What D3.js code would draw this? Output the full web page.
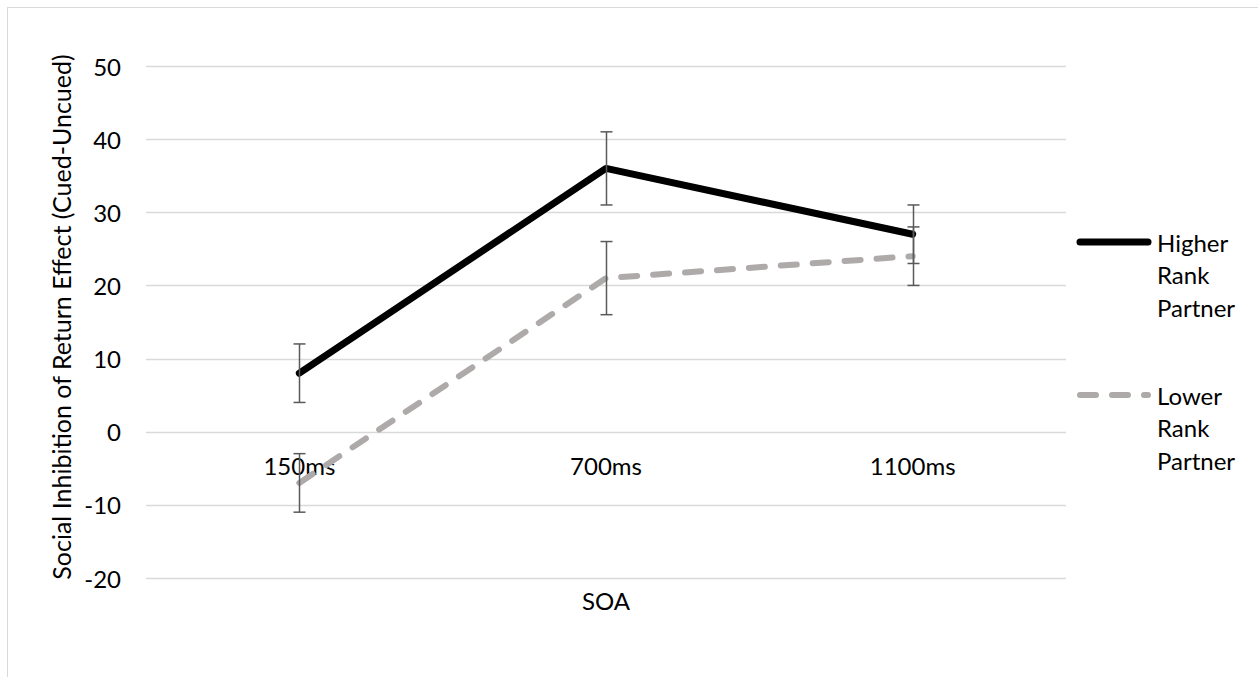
<!DOCTYPE html>
<html>
<head>
<meta charset="utf-8">
<script src="https://cdn.jsdelivr.net/npm/d3@7"></script>
<style>
  body { margin: 0; background: #fff; }
  svg text { font-family: Lato, "Open Sans", sans-serif; fill: #000; }
</style>
</head>
<body>
<div id="chart"></div>
<script>
// chart values
const categories = ["150ms", "700ms", "1100ms"]
const higher_values = [8, 36, 27]
const higher_errors = [4, 5, 4]
const lower_values = [-7, 21, 24]
const lower_errors = [4, 5, 4]
const y_ticks = [-20, -10, 0, 10, 20, 30, 40, 50]

const width = 1258
const height = 677
const plot = {left: 146, right: 1066, top: 66, bottom: 578}
const font_size = "24px"

const svg = d3.select("#chart").append("svg").attr("width", width).attr("height", height)

// outer frame (right/bottom edges fall outside the picture)
svg.append("rect")
  .attr("x", 7.5).attr("y", 7.5)
  .attr("width", width + 20).attr("height", height + 20)
  .attr("fill", "none").attr("stroke", "#d9d9d9").attr("stroke-width", 1)

const x_scale = d3.scaleBand().domain(categories).range([plot.left, plot.right])
const y_scale = d3.scaleLinear().domain([-20, 50]).range([plot.bottom, plot.top])
const cx = c => x_scale(c) + x_scale.bandwidth() / 2

// gridlines
svg.append("g").selectAll("line")
  .data(y_ticks)
  .join("line")
  .attr("x1", plot.left).attr("x2", plot.right)
  .attr("y1", d => Math.round(y_scale(d)) + 0.5).attr("y2", d => Math.round(y_scale(d)) + 0.5)
  .attr("stroke", "#d9d9d9").attr("stroke-width", 1.3)

// y tick labels
svg.append("g").selectAll("text")
  .data(y_ticks)
  .join("text")
  .attr("x", 121).attr("y", d => y_scale(d))
  .attr("text-anchor", "end").attr("dominant-baseline", "central")
  .style("font-size", font_size)
  .text(d => d)

// category labels sit just under the zero line
svg.append("g").selectAll("text")
  .data(categories)
  .join("text")
  .attr("x", d => cx(d)).attr("y", y_scale(0) + 34)
  .attr("text-anchor", "middle").attr("dominant-baseline", "central")
  .style("font-size", font_size)
  .text(d => d)

// axis titles
svg.append("text")
  .attr("transform", `translate(61,${(plot.top + plot.bottom) / 2 - 5}) rotate(-90)`)
  .attr("text-anchor", "middle").attr("dominant-baseline", "central")
  .style("font-size", "25px")
  .text("Social Inhibition of Return Effect (Cued-Uncued)")

svg.append("text")
  .attr("x", cx(categories[1])).attr("y", 600)
  .attr("text-anchor", "middle").attr("dominant-baseline", "central")
  .style("font-size", font_size)
  .text("SOA")

const line = d3.line()
  .x((d, i) => cx(categories[i]))
  .y(d => y_scale(d))

const series = [
  {name: ["Higher", "Rank", "Partner"], values: higher_values, errors: higher_errors, color: "#000000", width: 7, dash: null, legend_y: 242},
  {name: ["Lower", "Rank", "Partner"], values: lower_values, errors: lower_errors, color: "#aeaaaa", width: 6, dash: "16,16", legend_y: 395}
]

// series lines (lower first so the black line stays on top)
series.slice().reverse().forEach(s => {
  svg.append("path")
    .datum(s.values)
    .attr("fill", "none")
    .attr("stroke", s.color)
    .attr("stroke-width", s.width)
    .attr("stroke-linecap", "round")
    .attr("stroke-linejoin", "round")
    .attr("stroke-dasharray", s.dash)
    .attr("d", line)
})

// error bars
series.forEach(s => {
  const g = svg.append("g").attr("stroke", "#595959").attr("stroke-width", 1.5)
  s.values.forEach((v, i) => {
    const x = Math.round(cx(categories[i])) + 0.5
    const y_top = y_scale(v + s.errors[i])
    const y_bot = y_scale(v - s.errors[i])
    g.append("line").attr("x1", x).attr("x2", x).attr("y1", y_top).attr("y2", y_bot)
    g.append("line").attr("x1", x - 6).attr("x2", x + 6).attr("y1", y_top).attr("y2", y_top)
    g.append("line").attr("x1", x - 6).attr("x2", x + 6).attr("y1", y_bot).attr("y2", y_bot)
  })
})

// legend
series.forEach(s => {
  svg.append("line")
    .attr("x1", 1080).attr("x2", 1148)
    .attr("y1", s.legend_y).attr("y2", s.legend_y)
    .attr("stroke", s.color)
    .attr("stroke-width", s.width)
    .attr("stroke-linecap", "round")
    .attr("stroke-dasharray", s.dash)
  svg.append("g").selectAll("text")
    .data(s.name)
    .join("text")
    .attr("x", 1157).attr("y", (d, i) => s.legend_y + i * 32.5)
    .attr("dominant-baseline", "central")
    .style("font-size", font_size)
    .text(d => d)
})
</script>
</body>
</html>
